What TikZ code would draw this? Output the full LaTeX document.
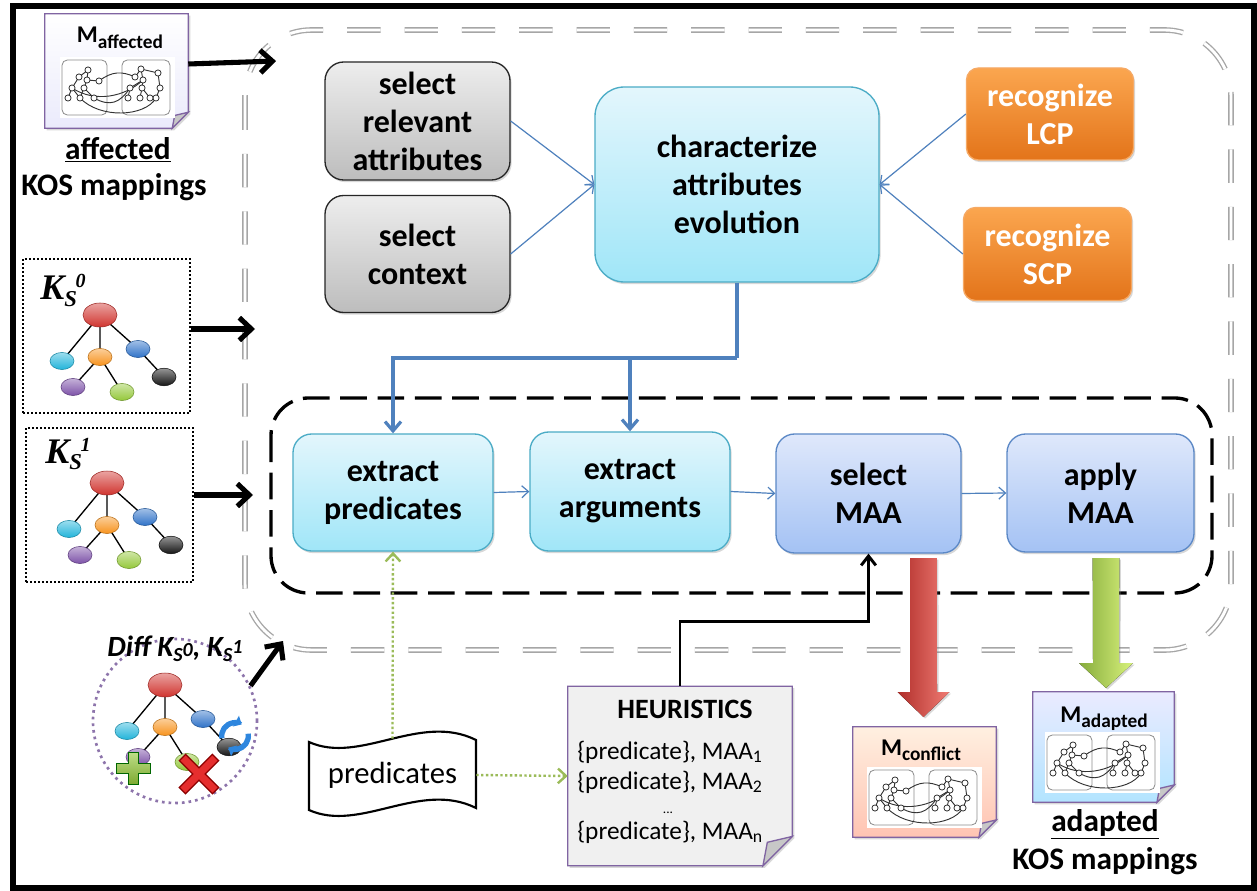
\documentclass[tikz,border=0pt]{standalone}
\usepackage{fontspec}
\setmainfont{Carlito}
\newfontfamily\kfont{Liberation Serif}
\usetikzlibrary{arrows.meta,shadows}

\definecolor{gryTop}{HTML}{EDEDED}
\definecolor{gryBot}{HTML}{BDBDBD}
\definecolor{cyTop}{HTML}{E3F6FC}
\definecolor{cyBot}{HTML}{A0E6F8}
\definecolor{cyEdge}{HTML}{4BACC6}
\definecolor{blTop}{HTML}{DFE8FB}
\definecolor{blBot}{HTML}{A4C2F4}
\definecolor{blEdge}{HTML}{5B88C6}
\definecolor{orTop}{HTML}{FBA64F}
\definecolor{orBot}{HTML}{E3741A}
\definecolor{orEdge}{HTML}{F6A964}
\definecolor{flow}{HTML}{4F81BD}
\definecolor{docEdge}{HTML}{8064A2}
\definecolor{leaf}{HTML}{9BBB59}
\definecolor{frameGray}{HTML}{A6A6A6}
\definecolor{nRed}{HTML}{D0342F}
\definecolor{nCyan}{HTML}{22B4DA}
\definecolor{nOrange}{HTML}{F7931E}
\definecolor{nBlue}{HTML}{2F72C8}
\definecolor{nPurple}{HTML}{7D52A8}
\definecolor{nGreen}{HTML}{94C83A}
\definecolor{nBlack}{HTML}{151515}
\definecolor{redL}{HTML}{B02E2A}
\definecolor{redR}{HTML}{F07C74}
\definecolor{grnL}{HTML}{86AB3C}
\definecolor{grnR}{HTML}{D8F27C}
\definecolor{refreshBlue}{HTML}{2E86DE}

% M with a lowered word as index
\newcommand\mlabel[1]{\fontsize{18}{18}\selectfont M\raisebox{-4pt}{\fontsize{14.5}{14.5}\selectfont #1}}
% K_S with a raised version number
\newcommand\kslab[1]{\kfont\bfseries\itshape\fontsize{27}{27}\selectfont K\raisebox{-5pt}{\fontsize{17}{17}\selectfont S}\kern-1pt\raisebox{9pt}{\fontsize{15}{15}\selectfont #1}}

% folded-corner document outline around a named holder node
\newcommand\foldeddoc[3]{%
  \path[draw=docEdge, line width=1pt, drop shadow={shadow xshift=1.5pt, shadow yshift=-1.5pt, opacity=0.3}, #3]
    (#1.north west) -- (#1.north east) -- ([yshift=#2]#1.south east)
    -- ([xshift=-#2]#1.south east) -- (#1.south west) -- cycle;
  \path[fill=black!22, draw=docEdge, line width=1pt]
    ([yshift=#2]#1.south east) -- ([xshift=-#2]#1.south east)
    -- ([xshift=-0.85*#2, yshift=0.8*#2]#1.south east) -- cycle;}

% glossy concept ellipse
\newcommand\concept[4]{%
  \shade[top color=#1!45!white, bottom color=#1, draw=#1!75!black, line width=0.4pt]
    #2 ellipse [x radius=#3, y radius=#4];}

\tikzset{
  proc/.style={rectangle, rounded corners=14pt, align=center, inner sep=0pt, line width=1pt,
    font=\fontsize{24}{28.5}\selectfont\bfseries,
    drop shadow={shadow xshift=1.2pt, shadow yshift=-1.6pt, opacity=0.3}},
  graybox/.style={proc, draw=black!85, top color=gryTop, bottom color=gryBot},
  cyanbox/.style={proc, draw=cyEdge, top color=cyTop, bottom color=cyBot},
  bluebox/.style={proc, draw=blEdge, top color=blTop, bottom color=blBot},
  orangebox/.style={proc, rounded corners=9pt, draw=orEdge, top color=orTop, bottom color=orBot, text=white},
  holder/.style={rectangle, inner sep=0pt, draw=none},
  dotbox/.style={rectangle, inner sep=0pt, draw=black, line width=1.5pt, dash pattern=on 1.5pt off 1.5pt},
  flowline/.style={draw=flow, line width=0.9pt, -{Straight Barb[length=5pt,width=9pt]}},
  trunk/.style={draw=flow, line width=2.4pt},
  trunkarrow/.style={trunk, -{Straight Barb[length=7pt,width=12pt]}},
  feed/.style={line width=3.8pt, -{Straight Barb[length=9pt,width=17pt]}},
  hint/.style={draw=leaf, line width=1.8pt, dash pattern=on 1.8pt off 1.8pt, -{Straight Barb[length=6pt,width=11pt]}},
  pick/.style={line width=2.2pt, -{Straight Barb[length=7pt,width=11pt]}},
  caption/.style={font=\fontsize{23.5}{23.5}\selectfont\bfseries},
  % small ontology mapping sketch: two trees joined by arcs
  kosmap/.pic={
    \fill[white] (0,0) rectangle (115,61);
    \draw[black!45, line width=0.6pt, rounded corners=4pt] (2,3) rectangle (47,58) (62,3) rectangle (110,58);
    \begin{scope}[line width=0.7pt, draw=black!80]
      \draw (28,13) -- (19,20) (28,13) -- (27,23) (27,23) -- (39,24) (19,20) -- (12,31)
            (27,23) -- (24,31) (12,31) -- (8,41) (24,31) -- (20,41) (24,31) -- (34,41) (12,31) -- (20,41);
      \draw (81,12) -- (75,20) (81,12) -- (83,23) (81,12) -- (98,16) (83,23) -- (70,31)
            (83,23) -- (82,31) (98,16) -- (100,31) (70,31) -- (68,41) (82,31) -- (80,41)
            (100,31) -- (96,41) (82,31) -- (90,41);
      \draw (39,24) .. controls (52,14) and (62,14) .. (75,20);
      \draw (34,41) .. controls (50,50) and (60,46) .. (70,31);
      \draw (20,41) .. controls (40,62) and (85,60) .. (96,41);
      \draw (12,31) .. controls (35,46) and (65,40) .. (83,23);
      \foreach \p in {(28,13),(19,20),(27,23),(39,24),(12,31),(24,31),(8,41),(20,41),(34,41),
                      (81,12),(75,20),(83,23),(98,16),(70,31),(82,31),(100,31),(68,41),(80,41),(96,41),(90,41)}
        \filldraw[fill=white, draw=black!80, line width=0.6pt] \p circle[radius=2.3pt];
    \end{scope}
  },
  % coloured concept tree
  kstree/.pic={
    \draw[line width=1pt] (0,0) -- (-38,46) (0,0) -- (0,42) (0,0) -- (38,34)
          (0,42) -- (-27,72) (0,42) -- (22,77) (38,34) -- (64,62);
    \concept{nRed}{(0,0)}{12.75pt}{9pt}
    \concept{nCyan}{(-38,46)}{9pt}{6.4pt}
    \concept{nOrange}{(0,42)}{9pt}{6.4pt}
    \concept{nBlue}{(38,34)}{9pt}{6.4pt}
    \concept{nPurple}{(-27,72)}{9pt}{6.4pt}
    \concept{nGreen}{(22,77)}{9pt}{6.4pt}
    \concept{nBlack}{(64,62)}{9pt}{6.6pt}
  }
}

\begin{document}
\begin{tikzpicture}[x=0.75pt, y=-0.75pt]
\useasboundingbox (0,0) rectangle (1257,891);
\fill[white] (0,0) rectangle (1257,891);

% page frame
\draw[line width=4.5pt] (12.5,6.5) rectangle (1254,888);

% process region frames
\draw[draw=frameGray, double=white, double distance=2.2pt, line width=1pt,
      dash pattern=on 25pt off 18pt, rounded corners=50pt] (245,30) rectangle (1231,650);
\draw[line width=2.5pt, dash pattern=on 20pt off 8pt, rounded corners=28pt] (271,398) rectangle (1212,593);

% upper stage
\node[graybox, minimum width=138.75pt, minimum height=88.5pt] (sra) at (417.5,121) {select\\relevant\\attributes};
\node[graybox, minimum width=138.75pt, minimum height=87.75pt] (sct) at (417.5,254) {select\\context};
\node[cyanbox, rounded corners=22pt, minimum width=213pt, minimum height=146.25pt] (cae) at (737,184.5) {characterize\\attributes\\evolution};
\node[orangebox, minimum width=125.25pt, minimum height=69pt] (lcp) at (1050,114) {recognize\\LCP};
\node[orangebox, minimum width=126pt, minimum height=69.75pt] (scp) at (1047.5,254) {recognize\\SCP};

% lower stage
\node[cyanbox, minimum width=150pt, minimum height=87.75pt] (ep) at (393,492.5) {extract\\predicates};
\node[cyanbox, minimum width=150pt, minimum height=89.25pt] (ea) at (630,491.5) {extract\\arguments};
\node[bluebox, minimum width=138.75pt, minimum height=89.25pt] (sm) at (868.5,493.5) {select\\MAA};
\node[bluebox, minimum width=140.25pt, minimum height=88.5pt] (am) at (1100.5,493) {apply\\MAA};

% affected mappings document
\node[holder, minimum width=107.25pt, minimum height=85.5pt] (maff) at (116.5,71) {};
\foldeddoc{maff}{12pt}{top color=white, bottom color=black!18!blue!8!white}
\pic at (60,57) {kosmap};
\node[anchor=base, font=\bfseries] (maffT) at (120,43) {\mlabel{affected}};
\node[caption] (maffA) at (118,150) {\underline{affected}};
\node[caption] (maffB) at (114,187) {KOS mappings};

% source versions
\node[dotbox, minimum width=125.25pt, minimum height=115.5pt] (ks0) at (106.5,336) {};
\pic at (100,315) {kstree};
\node[anchor=base west, inner sep=0pt] (ks0lab) at (40,300) {\kslab{0}};
\node[dotbox, minimum width=125.25pt, minimum height=115.5pt] (ks1) at (109.5,505) {};
\pic at (107,483) {kstree};
\node[anchor=base west, inner sep=0pt] (ks1lab) at (45,463) {\kslab{1}};

% difference between the versions
\node[circle, draw=docEdge!90, line width=2pt, dash pattern=on 2pt off 3pt, minimum size=123pt, inner sep=0pt] (diff) at (175,721) {};
\pic at (165,685) {kstree};
\node[font=\fontsize{22}{22}\selectfont\bfseries\itshape, inner sep=0pt] (difflab) at (175,649)
  {Diff K\raisebox{-4pt}{\fontsize{15}{15}\selectfont S}{\fontsize{15}{15}\selectfont 0}, K\raisebox{-4pt}{\fontsize{15}{15}\selectfont S}\raisebox{2pt}{\fontsize{15}{15}\selectfont 1}};
% added concept
\coordinate (plus) at (133,768);
\filldraw[draw=green!40!black, top color=nGreen!60!white, bottom color=nGreen!85!black, line width=0.5pt]
  ([shift={(-17,-5)}]plus) -- ++(12,0) -- ++(0,-11) -- ++(10,0) -- ++(0,11) -- ++(12,0) -- ++(0,10)
  -- ++(-12,0) -- ++(0,11) -- ++(-10,0) -- ++(0,-11) -- ++(-12,0) -- cycle;
% removed concept
\coordinate (cross) at (199,774);
\draw[line width=7.5pt, draw=red!55!black] ([shift={(-17,-17)}]cross) -- ([shift={(17,17)}]cross) ([shift={(17,-17)}]cross) -- ([shift={(-17,17)}]cross);
\draw[line width=5.5pt, draw=red!80!white!90!black] ([shift={(-16,-16)}]cross) -- ([shift={(16,16)}]cross) ([shift={(16,-16)}]cross) -- ([shift={(-16,16)}]cross);
% changed concept
\coordinate (refresh) at (235,736);
\draw[line width=4pt, refreshBlue, -{Triangle[length=5pt,width=9pt]}] ([shift={(190:10pt)}]refresh) arc[start angle=190, end angle=60, radius=10pt];
\draw[line width=4pt, refreshBlue, -{Triangle[length=5pt,width=9pt]}] ([shift={(10:10pt)}]refresh) arc[start angle=10, end angle=-120, radius=10pt];

% predicates tape
\draw[line width=1.6pt, fill=white] (309,742) .. controls (360,765) and (420,712) .. (476,740)
  -- (476,808) .. controls (420,780) and (360,833) .. (309,810) -- cycle;
\node[holder, minimum width=125.25pt, minimum height=54pt, font=\fontsize{23}{23}\selectfont\mdseries] (pred) at (392.5,775) {predicates};

% heuristics document
\node[holder, minimum width=168pt, minimum height=134.25pt] (heur) at (680,776) {};
\foldeddoc{heur}{22pt}{fill=black!6}
\node[font=\fontsize{21}{21}\selectfont\bfseries] (heurT) at (685,709) {HEURISTICS};
\node[anchor=west, inner sep=0pt, font=\fontsize{19}{19}\selectfont\mdseries] (h1) at (577,752) {\{predicate\}, MAA\textsubscript{1}};
\node[anchor=west, inner sep=0pt, font=\fontsize{19}{19}\selectfont\mdseries] (h2) at (577,782) {\{predicate\}, MAA\textsubscript{2}};
\node[inner sep=0pt, font=\fontsize{10}{10}\selectfont\mdseries] (hdots) at (668,813) {...};
\node[anchor=west, inner sep=0pt, font=\fontsize{19}{19}\selectfont\mdseries] (h3) at (577,832) {\{predicate\}, MAA\textsubscript{n}};

% conflicting mappings document
\node[holder, minimum width=107.25pt, minimum height=82.5pt] (mcon) at (924.5,782) {};
\foldeddoc{mcon}{13pt}{top color=orange!12!white, bottom color=orange!45!red!30!white}
\pic at (867,767) {kosmap};
\node[anchor=base, font=\bfseries] (mconT) at (921,755) {\mlabel{conflict}};

% adapted mappings document
\node[holder, minimum width=105.75pt, minimum height=82.5pt] (mada) at (1103.5,747) {};
\foldeddoc{mada}{13pt}{top color=blue!8!white, bottom color=blue!35!cyan!30!white}
\pic at (1045,732) {kosmap};
\node[anchor=base, font=\bfseries] (madaT) at (1104,722) {\mlabel{adapted}};
\node[caption] (madaA) at (1105,824) {\underline{adapted}};
\node[caption] (madaB) at (1105,861) {KOS mappings};

% result arrows
\coordinate (redTop) at (923.5,558);
\coordinate (redTip) at (923.5,717);
\fill[left color=redL, right color=redR, drop shadow={shadow xshift=1.2pt, shadow yshift=-1.2pt, opacity=0.3}]
  ([xshift=-10pt]redTop) -- ([xshift=10pt]redTop) -- ([shift={(13.5,-25)}]redTip) -- ([shift={(26,-25)}]redTip)
  -- (redTip) -- ([shift={(-26,-25)}]redTip) -- ([shift={(-13.5,-25)}]redTip) -- cycle;
\coordinate (grnTop) at (1106,558);
\coordinate (grnTip) at (1106,688);
\fill[left color=grnL, right color=grnR, drop shadow={shadow xshift=1.2pt, shadow yshift=-1.2pt, opacity=0.3}]
  ([xshift=-10pt]grnTop) -- ([xshift=10pt]grnTop) -- ([shift={(13,-25)}]grnTip) -- ([shift={(27,-25)}]grnTip)
  -- (grnTip) -- ([shift={(-27,-25)}]grnTip) -- ([shift={(-13,-25)}]grnTip) -- cycle;

% inputs
\coordinate (inTop) at (276,61);
\coordinate (in0) at (255,329);
\coordinate (in1) at (253,495);
\coordinate (inDiff) at (283,641);
\draw[feed] (maff.east |- 0,64) -- (inTop);
\draw[feed] (ks0.east |- in0) -- (in0);
\draw[feed] (ks1.east |- in1) -- (in1);
\draw[feed] (diff.25) -- (inDiff);

% flow connectors
\draw[flowline] (sra.east) -- (cae.west);
\draw[flowline] (sct.east) -- (cae.west);
\draw[flowline] (lcp.west) -- (cae.east);
\draw[flowline] (scp.west) -- (cae.east);
\coordinate (split) at (737,358);
\draw[trunk] (cae.south) -- (split);
\draw[trunkarrow] (split) -| (ep.north);
\draw[trunkarrow] (split) -| (ea.north);
\draw[flowline] (ep.east) -- (ea.west);
\draw[flowline] (ea.east) -- (sm.west);
\draw[flowline] (sm.east) -- (am.west);

% heuristics and predicates
\draw[pick] (heur.north) -- ++(0,-65) -| (sm.south);
\draw[hint] (pred.north) -- (ep.south);
\draw[hint] (pred.east) -- (heur.west);
\end{tikzpicture}
\end{document}
